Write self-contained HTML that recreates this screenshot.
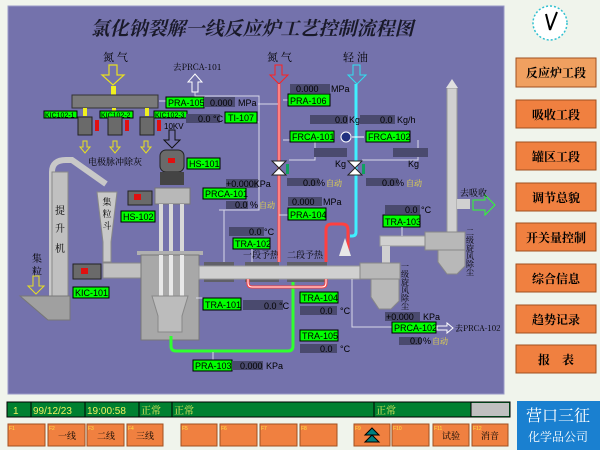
<!DOCTYPE html>
<html><head><meta charset="utf-8"><style>
body{margin:0;width:600px;height:450px;background:#f0f4ec;overflow:hidden;font-family:"Liberation Sans","Noto Sans CJK SC",sans-serif}
svg{position:absolute;left:0;top:0}
.g{fill:#00ff00;stroke:#000;stroke-width:1}
.v{fill:#4a4a6e}
.t{font-size:9px;fill:#000;font-family:"Liberation Sans",sans-serif}
.c{font-family:"Noto Serif CJK SC","Noto Sans CJK SC",serif}
</style></head><body>
<svg width="600" height="450" viewBox="0 0 600 450" xmlns="http://www.w3.org/2000/svg">
<rect x="8" y="6" width="496" height="388" fill="#7472ac" stroke="#9a9ac8"/>
<text x="252" y="35" text-anchor="middle" class="c" font-size="19" font-style="italic" font-weight="bold" fill="#1a1a2a">氯化钠裂解一线反应炉工艺控制流程图</text>

<!-- nitrogen left -->
<text x="103" y="61" class="c" font-size="11" fill="#000">氮 气</text>
<path d="M109,65h8v10h7l-11,10l-11,-10h7z" fill="none" stroke="#e8e020" stroke-width="1.2"/>
<rect x="111" y="86" width="5" height="10" fill="#f0f020"/>
<rect x="72" y="95" width="86" height="13" fill="#7a7a7a" stroke="#333"/>
<rect x="83" y="108" width="4" height="8" fill="#f0f020"/><rect x="112" y="108" width="4" height="8" fill="#f0f020"/><rect x="145" y="108" width="4" height="8" fill="#f0f020"/>
<rect x="44" y="111" width="33" height="7" class="g"/><text x="45" y="117.5" font-size="7" fill="#000">KIC102-1</text>
<rect x="100" y="111" width="33" height="7" class="g"/><text x="101" y="117.5" font-size="7" fill="#000">KIC102-2</text>
<rect x="154" y="111" width="33" height="7" class="g"/><text x="155" y="117.5" font-size="7" fill="#000">KIC102-3</text>
<g fill="#6a6a6a" stroke="#222">
<rect x="78" y="117" width="14" height="18"/><rect x="108" y="117" width="14" height="18"/><rect x="140" y="117" width="14" height="18"/></g>
<rect x="95" y="120" width="4" height="11" fill="#e01010"/><rect x="125" y="120" width="4" height="11" fill="#e01010"/><rect x="157" y="120" width="4" height="11" fill="#e01010"/>
<g fill="none" stroke="#e8e020"><path d="M83,141h4v6h3l-5,6l-5,-6h3z"/><path d="M113,141h4v6h3l-5,6l-5,-6h3z"/><path d="M144,141h4v6h3l-5,6l-5,-6h3z"/></g>
<text x="88" y="165" class="c" font-size="9" fill="#000">电极脉冲除灰</text>
<text x="173" y="70" class="c" font-size="8.5" fill="#000">去PRCA-101</text>
<path d="M192,92v-10h-4l7,-8l7,8h-4v10z" fill="none" stroke="#fff"/>
<path d="M195,92v4h64v26M159,101h7M235,122h24v88h-40" fill="none" stroke="#d8d8e8"/>
<rect x="166" y="97" width="38" height="11" class="g"/><text x="168" y="106" class="t">PRA-105</text>
<rect x="204" y="97" width="31" height="10" class="v"/><text x="210" y="106" class="t">0.000</text><text x="238" y="106" class="t">MPa</text>
<rect x="186" y="114" width="34" height="9" class="v"/><text x="198" y="122" class="t">0.0 °C</text>
<rect x="225" y="112" width="32" height="11" class="g"/><text x="228" y="121" class="t">TI-107</text>
<text x="164" y="129" font-size="8" fill="#000">10KV</text>
<path d="M169,130h6v10h5l-8,8l-8,-8h5z" fill="none" stroke="#111"/>

<!-- HS-101 motor -->
<rect x="160" y="150" width="24" height="22" rx="6" fill="#6a6a6a" stroke="#222"/><rect x="168" y="158" width="7" height="5" fill="#e01010"/>
<rect x="160" y="172" width="24" height="13" fill="#444"/>
<rect x="187" y="158" width="33" height="11" class="g"/><text x="189" y="167" class="t">HS-101</text>
<rect x="155" y="188" width="35" height="16" fill="#b8b8b8" stroke="#777"/>
<rect x="203" y="188" width="43" height="11" class="g"/><text x="205" y="197" class="t">PRCA-101</text>
<rect x="226" y="179" width="32" height="9" class="v"/><text x="226" y="187" class="t">+0.000KPa</text>
<rect x="226" y="201" width="22" height="8" class="v"/><text x="235" y="208" class="t">0.0</text><text x="250" y="208" class="t">%</text><text x="259" y="208" class="c" font-size="8" fill="#f0e040">自动</text>
<rect x="229" y="227" width="35" height="9" class="v"/><text x="249" y="235" class="t">0.0 °C</text>
<rect x="233" y="238" width="37" height="11" class="g"/><text x="235" y="247" class="t">TRA-102</text>
<path d="M224,210v52M252,249v13" stroke="#d8d8e8" fill="none"/>

<!-- elevator -->
<path d="M52,300V172q0,-12 14,-12h6l34,24" fill="none" stroke="#c8c8c8" stroke-width="6"/>
<rect x="52" y="172" width="16" height="130" fill="#c0c0c0" stroke="#888"/>
<text x="60" y="214" class="c" font-size="10" text-anchor="middle" fill="#000">提</text><text x="60" y="232" class="c" font-size="10" text-anchor="middle" fill="#000">升</text><text x="60" y="252" class="c" font-size="10" text-anchor="middle" fill="#000">机</text>
<path d="M20,296h50v24h-22z" fill="#a0a0a0" stroke="#777"/>
<text x="32" y="262" class="c" font-size="10" fill="#000">集</text><text x="32" y="275" class="c" font-size="10" fill="#000">粒</text>
<path d="M33,276h6v10h5l-8,8l-8,-8h5z" fill="none" stroke="#e8e020"/>
<path d="M97,192h20l-6,50v20h-8v-20z" fill="#c8c8c8" stroke="#888"/>
<text x="107" y="205" class="c" font-size="9" text-anchor="middle" fill="#000">集</text><text x="107" y="217" class="c" font-size="9" text-anchor="middle" fill="#000">粒</text><text x="107" y="229" class="c" font-size="9" text-anchor="middle" fill="#000">斗</text>
<rect x="128" y="191" width="24" height="14" fill="#6a6a6a" stroke="#222"/><rect x="134" y="194" width="7" height="6" fill="#e01010"/>
<rect x="121" y="211" width="34" height="11" class="g"/><text x="123" y="220" class="t">HS-102</text>
<rect x="103" y="263" width="40" height="15" fill="#c0c0c0" stroke="#888"/>
<rect x="73" y="264" width="28" height="15" fill="#6a6a6a" stroke="#222"/><rect x="81" y="268" width="7" height="6" fill="#e01010"/>
<rect x="73" y="287" width="36" height="11" class="g"/><text x="75" y="296" class="t">KIC-101</text>

<!-- reactor -->
<g fill="#d8d8d8"><rect x="159" y="204" width="4" height="100"/><rect x="169" y="204" width="4" height="100"/><rect x="180" y="204" width="4" height="100"/></g>
<rect x="137" y="251" width="66" height="4" fill="#b0b0b0"/>
<rect x="141" y="255" width="58" height="85" fill="#a8a8a8" stroke="#777"/>
<g fill="#e8e8e8"><rect x="159" y="255" width="4" height="50"/><rect x="169" y="255" width="4" height="50"/><rect x="180" y="255" width="4" height="50"/></g>
<path d="M152,296h36l-6,20v16h-24v-16z" fill="#bcbcbc" stroke="#888"/>
<path d="M196,298h7" stroke="#d8d8e8"/>
<rect x="203" y="298" width="38" height="12" class="g"/><text x="205" y="308" class="t">TRA-101</text>
<rect x="243" y="300" width="40" height="10" class="v"/><text x="264" y="309" class="t">0.0 °C</text>
<path d="M171,336v10q0,5 5,5h112q5,0 5,-5v-66" fill="none" stroke="#30ff30" stroke-width="3"/>
<path d="M213,352v8" stroke="#d8d8e8"/>
<rect x="193" y="360" width="39" height="11" class="g"/><text x="195" y="369" class="t">PRA-103</text>
<rect x="232" y="361" width="31" height="9" class="v"/><text x="240" y="369" class="t">0.000</text><text x="266" y="369" class="t">KPa</text>

<!-- main pipe -->
<g fill="#606068"><rect x="204" y="262" width="30" height="20"/><rect x="245" y="262" width="34" height="20"/><rect x="287" y="262" width="40" height="20"/></g>
<rect x="199" y="266" width="162" height="13" fill="#d0d0d0" stroke="#999"/>
<text x="243" y="258" class="c" font-size="9" fill="#000">一段予热</text><text x="287" y="258" class="c" font-size="9" fill="#000">二段予热</text>

<!-- red N2 -->
<text x="267" y="61" class="c" font-size="11" fill="#000">氮 气</text>
<path d="M275,65h7v10h6l-9,9l-9,-9h5z" fill="none" stroke="#ff2020"/>
<path d="M279,84V262M326,262v-32q0,-6 6,-6h10q6,0 6,6v26" fill="none" stroke="#ff4040" stroke-width="3"/>
<path d="M279,84V262" stroke="#ffc0c0"/>
<path d="M248,279v4q0,4 4,4h70q4,0 4,-4v-4" fill="none" stroke="#ff4040" stroke-width="3"/>
<path d="M248,279v4q0,4 4,4h70q4,0 4,-4v-4" fill="none" stroke="#fff" stroke-width="1"/>
<!-- cyan oil -->
<text x="343" y="61" class="c" font-size="11" fill="#000">轻 油</text>
<path d="M353,65h7v10h6l-9,9l-9,-9h5z" fill="none" stroke="#30e0f0"/>
<path d="M356,84v148q0,4 -4,4h-2" fill="none" stroke="#40f0ff" stroke-width="3"/>
<path d="M345,238l-6,18h12z" fill="#e8e8e8"/>

<path d="M283,100h5M258,104h20M283,140h7M315,140v20h-26M418,140v20h-56M279,215h9" stroke="#d8d8e8" fill="none"/>
<rect x="290" y="84" width="40" height="9" class="v"/><text x="296" y="92" class="t">0.000</text><text x="331" y="92" class="t">MPa</text>
<rect x="288" y="94" width="42" height="12" class="g"/><text x="290" y="104" class="t">PRA-106</text>
<rect x="310" y="115" width="38" height="9" class="v"/><text x="335" y="123" class="t">0.0</text><text x="349" y="123" class="t">Kg/h</text>
<rect x="290" y="131" width="44" height="11" class="g"/><text x="292" y="140" class="t">FRCA-101</text>
<circle cx="346" cy="137" r="5" fill="#203080" stroke="#fff"/><path d="M352,137h12" stroke="#fff"/>
<rect x="366" y="131" width="44" height="11" class="g"/><text x="368" y="140" class="t">FRCA-102</text>
<rect x="360" y="115" width="35" height="9" class="v"/><text x="380" y="123" class="t">0.0</text><text x="397" y="123" class="t">Kg/h</text>
<rect x="314" y="148" width="33" height="9" class="v"/><text x="335" y="167" class="t">Kg</text>
<rect x="393" y="148" width="35" height="9" class="v"/><text x="408" y="167" class="t">Kg</text>
<g fill="#fff" stroke="#222"><path d="M272,161l14,0l-14,14h14z"/><path d="M348,161l14,0l-14,14h14z"/></g>
<rect x="286" y="164" width="3" height="10" fill="#10a060"/><rect x="362" y="164" width="3" height="10" fill="#10a060"/>
<rect x="287" y="178" width="32" height="8" class="v"/><text x="303" y="186" class="t">0.0</text><text x="317" y="186" class="t">%</text><text x="326" y="186" class="c" font-size="8" fill="#f0e040">自动</text>
<rect x="366" y="178" width="32" height="8" class="v"/><text x="382" y="186" class="t">0.0</text><text x="396" y="186" class="t">%</text><text x="406" y="186" class="c" font-size="8" fill="#f0e040">自动</text>
<rect x="288" y="197" width="34" height="9" class="v"/><text x="292" y="205" class="t">0.000</text><text x="323" y="205" class="t">MPa</text>
<rect x="288" y="208" width="38" height="12" class="g"/><text x="290" y="218" class="t">PRA-104</text>

<!-- cyclones -->
<rect x="380" y="236" width="50" height="10" fill="#d0d0d0" stroke="#999"/>
<rect x="382" y="246" width="8" height="18" fill="#d0d0d0"/>
<rect x="360" y="263" width="40" height="16" fill="#b8b8b8" stroke="#888"/>
<path d="M371,279h28v22l-8,8h-12l-8,-12z" fill="#b8b8b8" stroke="#888"/>
<rect x="447" y="88" width="10" height="146" fill="#d0d0d0" stroke="#999"/>
<path d="M446,88h12l-6,-9z" fill="#e0e0e0"/>
<rect x="457" y="199" width="13" height="10" fill="#d0d0d0"/>
<path d="M473,200h12v-5l10,10l-10,10v-5h-12z" fill="none" stroke="#30ff30"/>
<text x="460" y="196" class="c" font-size="9" fill="#000">去吸收</text>
<rect x="425" y="232" width="40" height="18" fill="#b8b8b8" stroke="#888"/>
<path d="M438,250h27v16l-8,8h-10l-9,-12z" fill="#b8b8b8" stroke="#888"/>
<text x="470" y="228" class="c" font-size="8" fill="#000" writing-mode="tb">二级旋风除尘</text>
<text x="405" y="262" class="c" font-size="8" fill="#000" writing-mode="tb">一级旋风除尘</text>
<rect x="385" y="205" width="35" height="9" class="v"/><text x="405" y="213" class="t">0.0</text><text x="421" y="213" class="t">°C</text>
<rect x="383" y="215" width="37" height="12" class="g"/><text x="385" y="225" class="t">TRA-103</text>
<path d="M402,227v9M352,279v48h40" stroke="#d8d8e8" fill="none"/>
<rect x="385" y="312" width="35" height="9" class="v"/><text x="386" y="320" class="t">+0.000</text><text x="423" y="320" class="t">KPa</text>
<rect x="392" y="322" width="44" height="11" class="g"/><text x="394" y="331" class="t">PRCA-102</text>
<path d="M437,326h10v-3l6,5l-6,5v-3h-10z" fill="none" stroke="#fff"/>
<text x="455" y="331" class="c" font-size="8" fill="#000">去PRCA-102</text>
<rect x="399" y="337" width="22" height="8" class="v"/><text x="410" y="344" class="t">0.0</text><text x="423" y="344" class="t">%</text><text x="432" y="344" class="c" font-size="8" fill="#f0e040">自动</text>
<rect x="300" y="292" width="38" height="11" class="g"/><text x="302" y="301" class="t">TRA-104</text>
<rect x="300" y="306" width="37" height="9" class="v"/><text x="320" y="314" class="t">0.0</text><text x="340" y="314" class="t">°C</text>
<rect x="300" y="330" width="38" height="11" class="g"/><text x="302" y="339" class="t">TRA-105</text>
<rect x="300" y="344" width="37" height="9" class="v"/><text x="320" y="352" class="t">0.0</text><text x="340" y="352" class="t">°C</text>

<!-- clock -->
<circle cx="550" cy="23" r="17" fill="#fff" stroke="#30c0d0" stroke-dasharray="2 2" stroke-width="1.5"/>
<path d="M550,30l7,-18M550,30l-4,-16" stroke="#000" stroke-width="2"/>

<!-- right buttons -->
<g font-size="12" font-weight="bold" text-anchor="middle" class="c" fill="#000">
<rect x="516" y="58" width="80" height="29" fill="#f0a060" stroke="#a05020"/><text x="556" y="77">反应炉工段</text>
<rect x="516" y="100" width="80" height="28" fill="#f08040" stroke="#a05020"/><text x="556" y="119">吸收工段</text>
<rect x="516" y="142" width="80" height="28" fill="#f08040" stroke="#a05020"/><text x="556" y="161">罐区工段</text>
<rect x="516" y="183" width="80" height="28" fill="#f08040" stroke="#a05020"/><text x="556" y="202">调节总貌</text>
<rect x="516" y="223" width="80" height="28" fill="#f08040" stroke="#a05020"/><text x="556" y="242">开关量控制</text>
<rect x="516" y="264" width="80" height="28" fill="#f08040" stroke="#a05020"/><text x="556" y="283">综合信息</text>
<rect x="516" y="305" width="80" height="28" fill="#f08040" stroke="#a05020"/><text x="556" y="324">趋势记录</text>
<rect x="516" y="345" width="80" height="28" fill="#f08040" stroke="#a05020"/><text x="556" y="364">报　表</text>
</g>

<!-- status bar -->
<rect x="7" y="402" width="503" height="15" fill="#008030" stroke="#000"/>
<rect x="471" y="403" width="38" height="13" fill="#c0c0c0"/>
<g stroke="#000"><path d="M31,402v15M85,402v15M139,402v15M172,402v15M374,402v15M471,402v15"/></g>
<g font-size="10" fill="#f0f060"><text x="13" y="414">1</text><text x="33" y="414">99/12/23</text><text x="87" y="414">19:00:58</text>
<text x="141" y="414" class="c">正常</text><text x="174" y="414" class="c">正常</text><text x="376" y="414" class="c">正常</text></g>

<g fill="#f08040" stroke="#a05020">
<rect x="8" y="424" width="37" height="22"/><rect x="48" y="424" width="37" height="22"/><rect x="87" y="424" width="37" height="22"/><rect x="127" y="424" width="36" height="22"/>
<rect x="181" y="424" width="36" height="22"/><rect x="220" y="424" width="37" height="22"/><rect x="260" y="424" width="37" height="22"/><rect x="300" y="424" width="37" height="22"/>
<rect x="354" y="424" width="36" height="22"/><rect x="392" y="424" width="37" height="22"/><rect x="433" y="424" width="36" height="22"/><rect x="472" y="424" width="36" height="22"/></g>
<g font-size="5" fill="#ffe040"><text x="9" y="430">F1</text><text x="49" y="430">F2</text><text x="88" y="430">F3</text><text x="128" y="430">F4</text><text x="182" y="430">F5</text><text x="221" y="430">F6</text><text x="261" y="430">F7</text><text x="301" y="430">F8</text><text x="355" y="430">F9</text><text x="393" y="430">F10</text><text x="434" y="430">F11</text><text x="473" y="430">F12</text></g>
<g font-size="9" class="c" fill="#000" text-anchor="middle"><text x="67" y="439">一线</text><text x="106" y="439">二线</text><text x="145" y="439">三线</text><text x="451" y="439">试验</text><text x="490" y="439">消音</text></g>
<path d="M365,435l7,-7l7,7zM365,442l7,-7l7,7z" fill="#008080" stroke="#000"/>
<rect x="517" y="401" width="83" height="49" fill="#1a80d0"/>
<text x="558" y="421" text-anchor="middle" font-size="16" fill="#fff" class="c">营口三征</text>
<text x="558" y="441" text-anchor="middle" font-size="12" fill="#fff" class="c">化学品公司</text>
</svg>
</body></html>
